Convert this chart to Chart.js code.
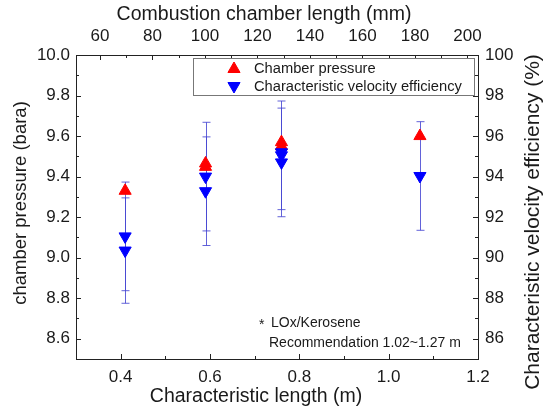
<!DOCTYPE html>
<html>
<head>
<meta charset="utf-8">
<script src="https://cdn.jsdelivr.net/npm/chart.js@4.4.0/dist/chart.umd.min.js"></script>
<style>
  body { margin: 0; background: #fff; }
</style>
</head>
<body>
<canvas id="myChart" width="549" height="410"></canvas>
<script>
// chamber pressure (left axis, bara)
var pressure_len = [0.41, 0.59, 0.59, 0.76, 0.76, 1.07];
var pressure_val = [9.33, 9.465, 9.448, 9.57, 9.55, 9.60];

// characteristic velocity efficiency (right axis, %)
var eff_len = [0.41, 0.41, 0.59, 0.59, 0.76, 0.76, 0.76, 1.07];
var eff_val = [91.05, 90.35, 94.0, 93.28, 95.2, 95.05, 94.7, 94.03];
var eff_err = [2.68, 2.6, 2.68, 2.68, 0, 2.68, 2.68, 2.68];

var x_ticks = [0.4, 0.6, 0.8, 1.0, 1.2];
var x_minor = [0.5, 0.7, 0.9, 1.1];
var top_ticks = [60, 80, 100, 120, 140, 160, 180, 200];
var top_minor = [70, 90, 110, 130, 150, 170, 190];
var y_ticks = [8.6, 8.8, 9.0, 9.2, 9.4, 9.6, 9.8, 10.0];
var y_minor = [8.7, 8.9, 9.1, 9.3, 9.5, 9.7, 9.9];
var y2_ticks = [86, 88, 90, 92, 94, 96, 98, 100];
var y2_minor = [87, 89, 91, 93, 95, 97, 99];

var legend_labels = ['Chamber pressure', 'Characteristic velocity efficiency'];
var note_lines = ['LOx/Kerosene', 'Recommendation 1.02~1.27 m'];
var titles = {
  bottom: 'Characteristic length (m)',
  top: 'Combustion chamber length (mm)',
  left: 'chamber pressure (bara)',
  right: 'Characteristic velocity efficiency (%)'
};

var FONT = "'Liberation Sans', Arial, sans-serif";
var TXT = '#1a1a1a';
Chart.defaults.font.family = FONT;
Chart.defaults.color = TXT;

function toPoints(xs, ys) {
  var out = [];
  for (let i = 0; i < xs.length; i++) out.push({x: xs[i], y: ys[i]});
  return out;
}

function fixTicks(list) {
  return function (axis) {
    axis.ticks = list.map(v => ({value: v}));
  };
}

var inwardTicks = {
  id: 'inwardTicks',
  afterDraw(chart) {
    const ctx = chart.ctx;
    const a = chart.chartArea;
    const s = chart.scales;
    ctx.save();
    ctx.strokeStyle = '#222';
    ctx.lineWidth = 1;
    function hmarks(scale, list, len, atTop) {
      list.forEach(v => {
        const px = Math.round(scale.getPixelForValue(v)) + 0.5;
        ctx.beginPath();
        if (atTop) { ctx.moveTo(px, a.top); ctx.lineTo(px, a.top + len); }
        else { ctx.moveTo(px, a.bottom); ctx.lineTo(px, a.bottom - len); }
        ctx.stroke();
      });
    }
    function vmarks(scale, list, len, atLeft) {
      list.forEach(v => {
        const py = Math.round(scale.getPixelForValue(v)) + 0.5;
        ctx.beginPath();
        if (atLeft) { ctx.moveTo(a.left, py); ctx.lineTo(a.left + len, py); }
        else { ctx.moveTo(a.right, py); ctx.lineTo(a.right - len, py); }
        ctx.stroke();
      });
    }
    hmarks(s.x, x_ticks, 5, false);
    hmarks(s.x, x_minor, 3, false);
    hmarks(s.x2, top_ticks, 5, true);
    hmarks(s.x2, top_minor, 3, true);
    vmarks(s.y, y_ticks, 5, true);
    vmarks(s.y, y_minor, 3, true);
    vmarks(s.y2, y2_ticks, 5, false);
    vmarks(s.y2, y2_minor, 3, false);
    ctx.restore();
  }
};

var errorBars = {
  id: 'errorBars',
  beforeDatasetsDraw(chart) {
    const ctx = chart.ctx;
    const sx = chart.scales.x;
    const sy = chart.scales.y2;
    ctx.save();
    ctx.strokeStyle = 'rgba(70, 70, 210, 0.85)';
    ctx.lineWidth = 1;
    for (let i = 0; i < eff_len.length; i++) {
      if (!eff_err[i]) continue;
      const px = Math.round(sx.getPixelForValue(eff_len[i])) + 0.5;
      const top = sy.getPixelForValue(eff_val[i] + eff_err[i]);
      const bot = sy.getPixelForValue(eff_val[i] - eff_err[i]);
      ctx.beginPath();
      ctx.moveTo(px, top); ctx.lineTo(px, bot);
      ctx.moveTo(px - 4, top); ctx.lineTo(px + 4, top);
      ctx.moveTo(px - 4, bot); ctx.lineTo(px + 4, bot);
      ctx.stroke();
    }
    ctx.restore();
  }
};

function rotatedText(ctx, text, x, y) {
  ctx.save();
  ctx.translate(x, y);
  ctx.rotate(-Math.PI / 2);
  ctx.fillText(text, 0, 0);
  ctx.restore();
}

var extras = {
  id: 'extras',
  afterDraw(chart) {
    const ctx = chart.ctx;
    ctx.save();
    // legend box
    ctx.fillStyle = '#fff';
    ctx.fillRect(193.5, 58.5, 281, 37);
    ctx.strokeStyle = '#777';
    ctx.lineWidth = 1;
    ctx.strokeRect(193.5, 58.5, 281, 37);
    ctx.fillStyle = '#ff0000';
    ctx.strokeStyle = '#ff0000';
    Chart.helpers.drawPoint(ctx, {pointStyle: 'triangle', radius: 7, rotation: 0, borderWidth: 1}, 234, 69);
    ctx.fillStyle = '#0000ff';
    ctx.strokeStyle = '#0000ff';
    Chart.helpers.drawPoint(ctx, {pointStyle: 'triangle', radius: 7, rotation: 180, borderWidth: 1}, 234, 86);
    ctx.fillStyle = TXT;
    ctx.font = '14.7px ' + FONT;
    ctx.textBaseline = 'middle';
    ctx.textAlign = 'left';
    ctx.fillText(legend_labels[0], 254, 69);
    ctx.fillText(legend_labels[1], 254, 87);

    // note
    ctx.font = '14px ' + FONT;
    ctx.fillText('*', 259, 325);
    ctx.fillText(note_lines[0], 271, 323);
    ctx.fillText(note_lines[1], 269, 343);

    // axis titles
    ctx.textAlign = 'center';
    ctx.font = '19.5px ' + FONT;
    ctx.fillText(titles.bottom, 256, 397);
    ctx.fillText(titles.top, 264, 15);
    ctx.font = '18.5px ' + FONT;
    rotatedText(ctx, titles.left, 21, 203);
    ctx.font = '21px ' + FONT;
    rotatedText(ctx, titles.right, 533, 222);
    ctx.restore();
  }
};

var tickFont = {size: 17};

const config = {
  type: 'scatter',
  data: {
    datasets: [{
      label: legend_labels[0],
      data: toPoints(pressure_len, pressure_val),
      xAxisID: 'x',
      yAxisID: 'y',
      pointStyle: 'triangle',
      pointRadius: 7,
      pointBackgroundColor: '#ff0000',
      pointBorderColor: '#ff0000',
      order: 2
    }, {
      label: legend_labels[1],
      data: toPoints(eff_len, eff_val),
      xAxisID: 'x',
      yAxisID: 'y2',
      pointStyle: 'triangle',
      rotation: 180,
      pointRadius: 7,
      pointBackgroundColor: '#0000ff',
      pointBorderColor: '#0000ff',
      order: 1
    }]
  },
  options: {
    responsive: false,
    animation: false,
    layout: {padding: 0},
    plugins: {legend: {display: false}, tooltip: {enabled: false}},
    scales: {
      x: {
        type: 'linear', position: 'bottom', min: 0.3, max: 1.2,
        afterBuildTicks: fixTicks(x_ticks),
        afterFit: s => { s.height = 51; },
        ticks: {font: tickFont, color: TXT, padding: 8, maxRotation: 0, callback: v => v.toFixed(1)},
        grid: {display: false, drawTicks: false},
        border: {display: true, color: '#222', width: 1}
      },
      x2: {
        type: 'linear', position: 'top', min: 50.9, max: 204,
        afterBuildTicks: fixTicks(top_ticks),
        afterFit: s => { s.height = 55; },
        ticks: {font: tickFont, color: TXT, padding: 8, maxRotation: 0, callback: v => String(v)},
        grid: {display: false, drawTicks: false},
        border: {display: true, color: '#222', width: 1}
      },
      y: {
        type: 'linear', position: 'left', min: 8.5, max: 10.0,
        afterBuildTicks: fixTicks(y_ticks),
        afterFit: s => { s.width = 76; },
        ticks: {font: tickFont, color: TXT, padding: 6, callback: v => v.toFixed(1)},
        grid: {display: false, drawTicks: false},
        border: {display: true, color: '#222', width: 1}
      },
      y2: {
        type: 'linear', position: 'right', min: 85, max: 100,
        afterBuildTicks: fixTicks(y2_ticks),
        afterFit: s => { s.width = 71; },
        ticks: {font: tickFont, color: TXT, padding: 7, callback: v => String(v)},
        grid: {display: false, drawTicks: false},
        border: {display: true, color: '#222', width: 1}
      }
    }
  },
  plugins: [errorBars, inwardTicks, extras]
};

var myChart = new Chart(document.getElementById('myChart'), config);
</script>
</body>
</html>
